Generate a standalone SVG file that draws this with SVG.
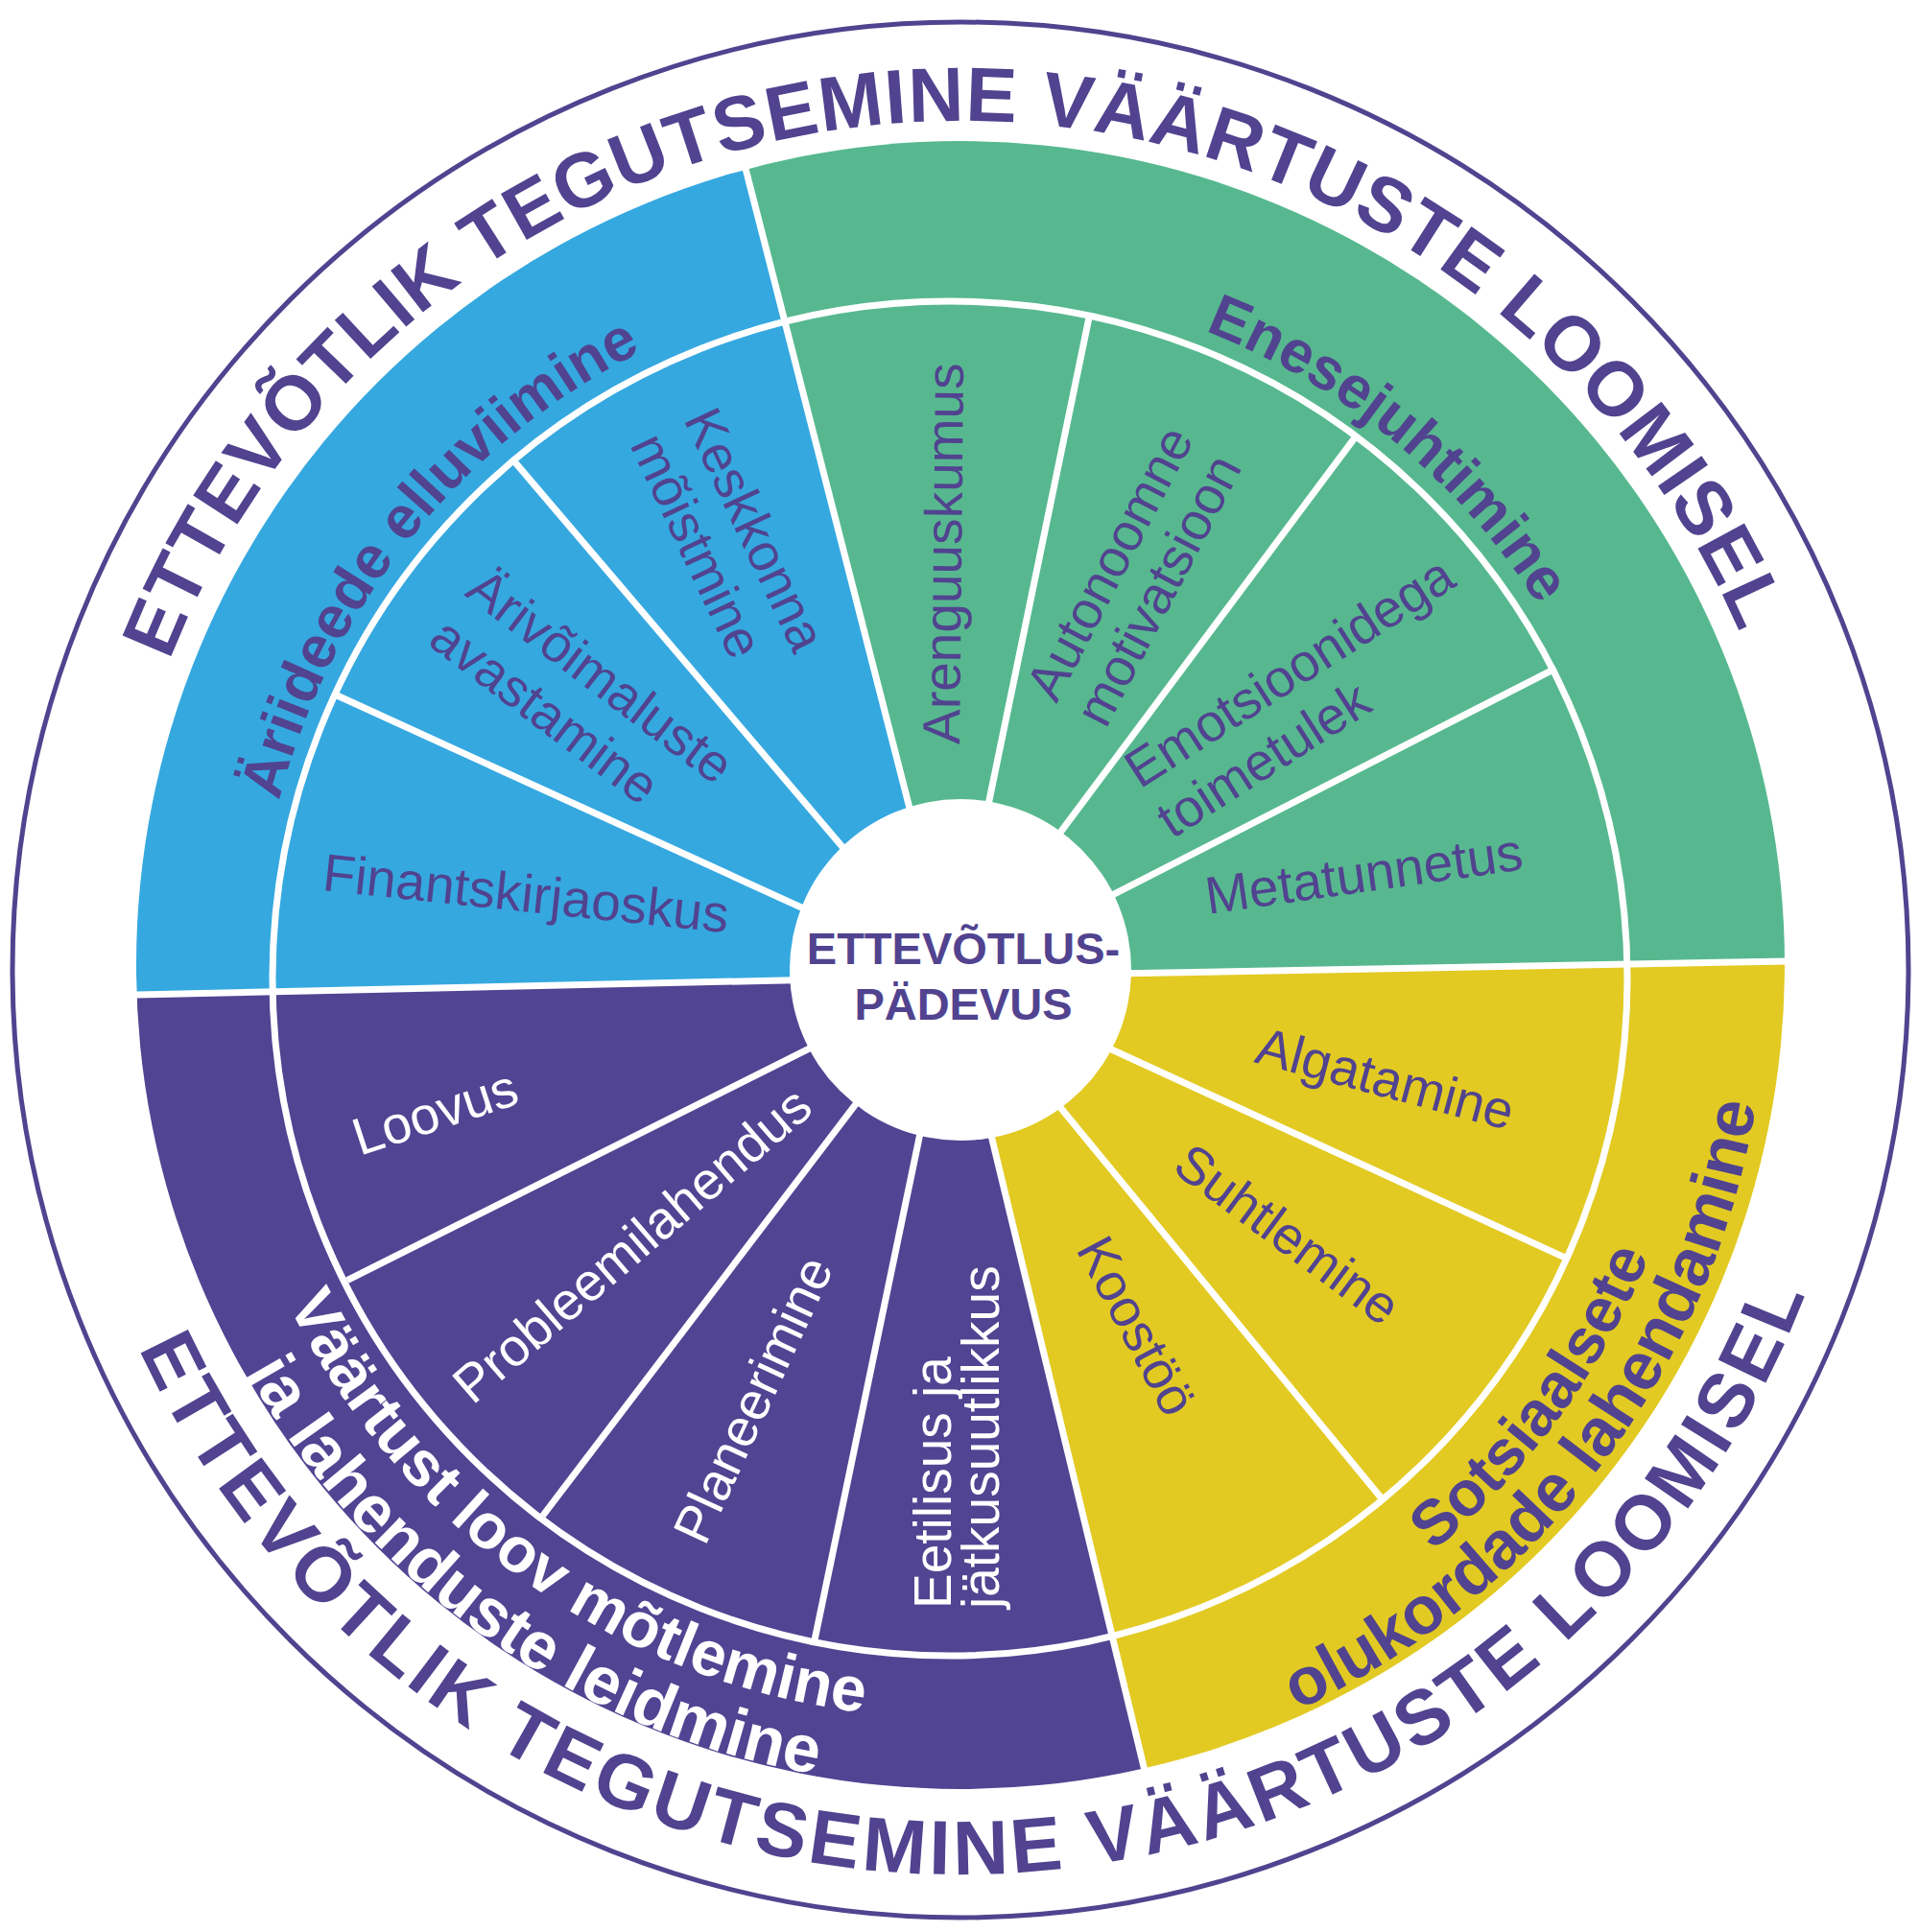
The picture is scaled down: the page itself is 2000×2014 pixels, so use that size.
<svg xmlns="http://www.w3.org/2000/svg" xmlns:xlink="http://www.w3.org/1999/xlink" width="2000" height="2014" viewBox="0 0 2000 2014">
<defs>
<style>
.t{font-family:"Liberation Sans",Arial,sans-serif}
.outer{font-size:80px;font-weight:bold;fill:#51438f}
.band{font-size:62px;font-weight:bold}
.band2{font-size:66px;font-weight:bold}
.band3{font-size:70px;font-weight:bold}
.inner{font-size:55px}
.pu{fill:#51438f}
.wh{fill:#ffffff}
.div{stroke:#ffffff;stroke-width:7;fill:none}
</style>
<clipPath id="ringClip"><circle cx="1001" cy="1006" r="859"/></clipPath>
<path id="outerTop" d="M 116 1011 A 885 885 0 0 1 1886 1011"/>
<path id="outerBot" d="M 58 1011 A 943 943 0 0 0 1944 1011"/>
<path id="bandTopA" d="M 268 1016 A 727 727 0 0 1 1722 1016"/>
<path id="bandTopB" d="M 275 1016 A 720 720 0 0 1 1715 1016"/>
<path id="bandBotInY" d="M 214 1016 A 781 781 0 0 0 1776 1016"/>
<path id="bandBotInP" d="M 220 1016 A 775 775 0 0 0 1770 1016"/>
<path id="bandBotOut" d="M 149 1016 A 846 846 0 0 0 1841 1016"/>
</defs>
<rect x="0" y="0" width="2000" height="2014" fill="#ffffff"/>
<g id="quadrants" clip-path="url(#ringClip)">
<polygon id="q-blue" fill="#35a8e0" points="993,1018 -406.7,1049.3 -122.7,172.1 645.3,-338.2"/>
<polygon id="q-green" fill="#57b88f" points="993,1018 645.3,-338.2 1841.4,-95.7 2392.8,992.3"/>
<polygon id="q-yellow" fill="#e2ca23" points="993,1018 2392.8,992.3 2100.7,1874.1 1321.7,2378.9"/>
<polygon id="q-purple" fill="#514492" points="993,1018 1321.7,2378.9 138.9,2127.2 -406.7,1049.3"/>
</g>
<g id="connectors">
<circle class="div" cx="990" cy="1020" r="706"/>
<line class="div" x1="993" y1="1018" x2="121.2" y2="1037.5"/>
<line class="div" x1="993" y1="1018" x2="776.4" y2="173.3"/>
<line class="div" x1="993" y1="1018" x2="1864.9" y2="1002"/>
<line class="div" x1="993" y1="1018" x2="1197.8" y2="1865.6"/>
<line class="div" x1="993" y1="1018" x2="350.8" y2="724.8"/>
<line class="div" x1="993" y1="1018" x2="535.4" y2="480.3"/>
<line class="div" x1="993" y1="1018" x2="1135.9" y2="326.6"/>
<line class="div" x1="993" y1="1018" x2="1415.1" y2="452.1"/>
<line class="div" x1="993" y1="1018" x2="1621.6" y2="696.6"/>
<line class="div" x1="993" y1="1018" x2="1634.6" y2="1312.6"/>
<line class="div" x1="993" y1="1018" x2="1441.1" y2="1563.5"/>
<line class="div" x1="993" y1="1018" x2="849.1" y2="1709.2"/>
<line class="div" x1="993" y1="1018" x2="565.7" y2="1580"/>
<line class="div" x1="993" y1="1018" x2="361.9" y2="1334.6"/>
</g>
<g id="center">
<circle cx="1001" cy="1011" r="178" fill="#ffffff"/>
<text class="t pu" font-size="47" font-weight="bold" text-anchor="middle" x="1004" y="1005">ETTEVÕTLUS-</text>
<text class="t pu" font-size="47" font-weight="bold" text-anchor="middle" x="1004" y="1063">PÄDEVUS</text>
</g>
<g id="outer-ring">
<circle cx="1001" cy="1011" r="988" fill="none" stroke="#51438f" stroke-width="5"/>
<text class="t outer" letter-spacing="1"><textPath xlink:href="#outerTop" href="#outerTop" startOffset="49.44%" text-anchor="middle">ETTEVÕTLIK TEGUTSEMINE VÄÄRTUSTE LOOMISEL</textPath></text>
<text class="t outer" letter-spacing="4"><textPath xlink:href="#outerBot" href="#outerBot" startOffset="51.1%" text-anchor="middle">ETTEVÕTLIK TEGUTSEMINE VÄÄRTUSTE LOOMISEL</textPath></text>
</g>
<g id="band-blue">
<text class="t band pu"><textPath xlink:href="#bandTopA" href="#bandTopA" startOffset="21.6%" text-anchor="middle">Äriideede elluviimine</textPath></text>
</g>
<g id="band-green">
<text class="t band pu"><textPath xlink:href="#bandTopB" href="#bandTopB" startOffset="71.92%" text-anchor="middle">Enesejuhtimine</textPath></text>
</g>
<g id="band-yellow">
<text class="t band2 pu"><textPath xlink:href="#bandBotInY" href="#bandBotInY" startOffset="79.89%" text-anchor="middle">Sotsiaalsete</textPath></text>
<text class="t band3 pu"><textPath xlink:href="#bandBotOut" href="#bandBotOut" startOffset="79.39%" text-anchor="middle">olukordade lahendamine</textPath></text>
</g>
<g id="band-purple">
<text class="t band2 wh"><textPath xlink:href="#bandBotInP" href="#bandBotInP" startOffset="30.33%" text-anchor="middle">Väärtust loov mõtlemine</textPath></text>
<text class="t band3 wh"><textPath xlink:href="#bandBotOut" href="#bandBotOut" startOffset="30.42%" text-anchor="middle">ja lahenduste leidmine</textPath></text>
</g>
<g id="n-finantskirjaoskus"><text class="t inner pu" transform="translate(335,928) rotate(6)">Finantskirjaoskus</text></g>
<g id="n-arivoimaluste" transform="translate(483,620) rotate(37.2)"><text class="t inner pu" x="0" y="0">Ärivõimaluste</text><text class="t inner pu" x="0" y="64">avastamine</text></g>
<g id="n-keskkonna" transform="translate(712,437) rotate(64.8)"><text class="t inner pu" x="0" y="0">Keskkonna</text><text class="t inner pu" x="0" y="62">mõistmine</text></g>
<g id="n-arenguuskumus"><text class="t inner pu" transform="translate(1000,776) rotate(-89.4)">Arenguuskumus</text></g>
<g id="n-autonoomne" transform="translate(1101,734) rotate(-62.5)"><text class="t inner pu" x="0" y="0">Autonoomne</text><text class="t inner pu" x="0" y="58">motivatsioon</text></g>
<g id="n-emotsioonidega" transform="translate(1188,823) rotate(-32.75)"><text class="t inner pu" x="0" y="0">Emotsioonidega</text><text class="t inner pu" x="0" y="62">toimetulek</text></g>
<g id="n-metatunnetus"><text class="t inner pu" transform="translate(1259,953) rotate(-8.1)">Metatunnetus</text></g>
<g id="n-algatamine"><text class="t inner pu" transform="translate(1306,1107) rotate(15)">Algatamine</text></g>
<g id="n-suhtlemine"><text class="t inner pu" transform="translate(1220,1220) rotate(36.5)">Suhtlemine</text></g>
<g id="n-koostoo"><text class="t inner pu" text-anchor="middle" transform="translate(1168,1391) rotate(62)">Koostöö</text></g>
<g id="n-eetilisus" transform="translate(991,1677) rotate(-90)"><text class="t inner wh" x="0" y="0">Eetilisus ja</text><text class="t inner wh" x="0" y="50">jätkusuutlikkus</text></g>
<g id="n-planeerimine"><text class="t inner wh" text-anchor="middle" transform="translate(802,1467) rotate(-65.2)">Planeerimine</text></g>
<g id="n-probleemilahendus"><text class="t inner wh" text-anchor="middle" transform="translate(671,1312) rotate(-40.7)">Probleemilahendus</text></g>
<g id="n-loovus"><text class="t inner wh" transform="translate(375,1205) rotate(-18.2)">Loovus</text></g>
</svg>
